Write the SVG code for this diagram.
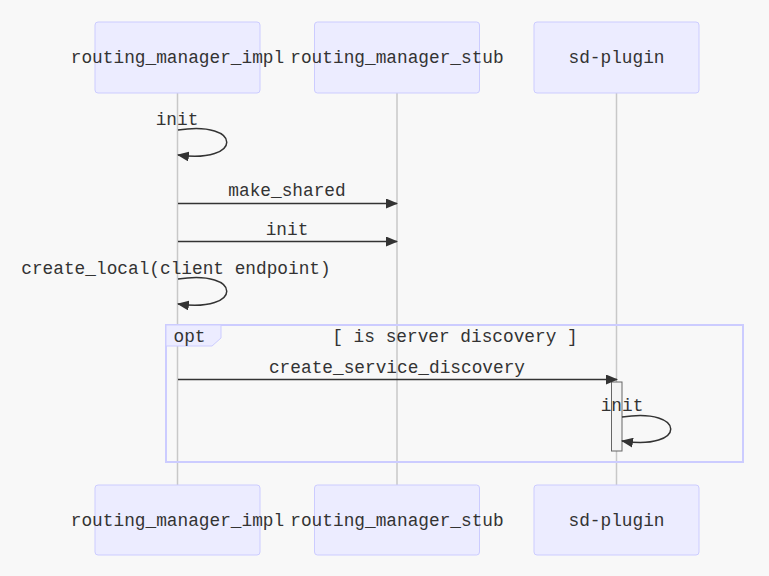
<svg xmlns="http://www.w3.org/2000/svg" width="769" height="576" viewBox="0 0 769 576">
<defs>
<style>
.actor{fill:#ECECFF;stroke:#CCCCFF;stroke-width:1}
.t{font-family:"Liberation Mono","Courier New",monospace;font-size:17.8px;fill:#333;}
.c{text-anchor:middle;dominant-baseline:central}
.life{stroke:#C8C8C8;stroke-width:1.5}
.msg{stroke:#333;stroke-width:1.5;fill:none}
</style>
<marker id="ah" viewBox="0 0 12 10" refX="11" refY="5" markerWidth="12" markerHeight="10" markerUnits="userSpaceOnUse" orient="auto">
<path d="M0,0 L12,5 L0,10 z" fill="#333"/>
</marker>
</defs>
<rect width="769" height="576" fill="#F8F8F8"/>
<g id="lifelines">
<line class="life" x1="177.5" y1="93" x2="177.5" y2="485"/>
<line class="life" x1="397" y1="93" x2="397" y2="485"/>
<line class="life" x1="616.5" y1="93" x2="616.5" y2="485"/>
</g>
<g id="actor-impl-top"><rect class="actor" x="95" y="22" width="165" height="71" rx="3"/><text class="t c" x="177.5" y="58">routing_manager_impl</text></g>
<g id="actor-stub-top"><rect class="actor" x="314.5" y="22" width="165" height="71" rx="3"/><text class="t c" x="397" y="58">routing_manager_stub</text></g>
<g id="actor-sd-top"><rect class="actor" x="534" y="22" width="165" height="71" rx="3"/><text class="t c" x="616.5" y="58">sd-plugin</text></g>
<g id="actor-impl-bottom"><rect class="actor" x="95" y="485" width="165" height="70" rx="3"/><text class="t c" x="177.5" y="520.5">routing_manager_impl</text></g>
<g id="actor-stub-bottom"><rect class="actor" x="314.5" y="485" width="165" height="70" rx="3"/><text class="t c" x="397" y="520.5">routing_manager_stub</text></g>
<g id="actor-sd-bottom"><rect class="actor" x="534" y="485" width="165" height="70" rx="3"/><text class="t c" x="616.5" y="520.5">sd-plugin</text></g>
<g id="opt">
<rect x="166" y="325" width="577" height="137" fill="none" stroke="#CCCCFF" stroke-width="2"/>
<polygon points="166,325 221,325 221,338 212,346 166,346" fill="#ECECFF" stroke="#CCCCFF" stroke-width="1"/>
<text class="t c" x="189.5" y="336.5">opt</text>
<text class="t c" x="455" y="336.5">[ is server discovery ]</text>
</g>
<g id="activation"><rect x="611.5" y="382" width="10.5" height="69" fill="#F4F4F4" stroke="#666" stroke-width="1"/></g>
<g id="connectors">
<path class="msg" d="M178,130 C243,120 243,164 178,155" marker-end="url(#ah)"/>
<text class="t c" x="177" y="119.5">init</text>
<line class="msg" x1="178" y1="203.5" x2="397" y2="203.5" marker-end="url(#ah)"/>
<text class="t c" x="287" y="190.5">make_shared</text>
<line class="msg" x1="178" y1="241.5" x2="397" y2="241.5" marker-end="url(#ah)"/>
<text class="t c" x="287" y="229.5">init</text>
<path class="msg" d="M178,279 C243,269 243,313 178,304" marker-end="url(#ah)"/>
<text class="t c" x="176" y="268.5">create_local(client endpoint)</text>
<line class="msg" x1="178" y1="379.5" x2="617" y2="379.5" marker-end="url(#ah)"/>
<text class="t c" x="397" y="367.5">create_service_discovery</text>
<path class="msg" d="M622,417 C687,407 687,451 622,441" marker-end="url(#ah)"/>
<text class="t c" x="622" y="405.5">init</text>
</g>
</svg>
